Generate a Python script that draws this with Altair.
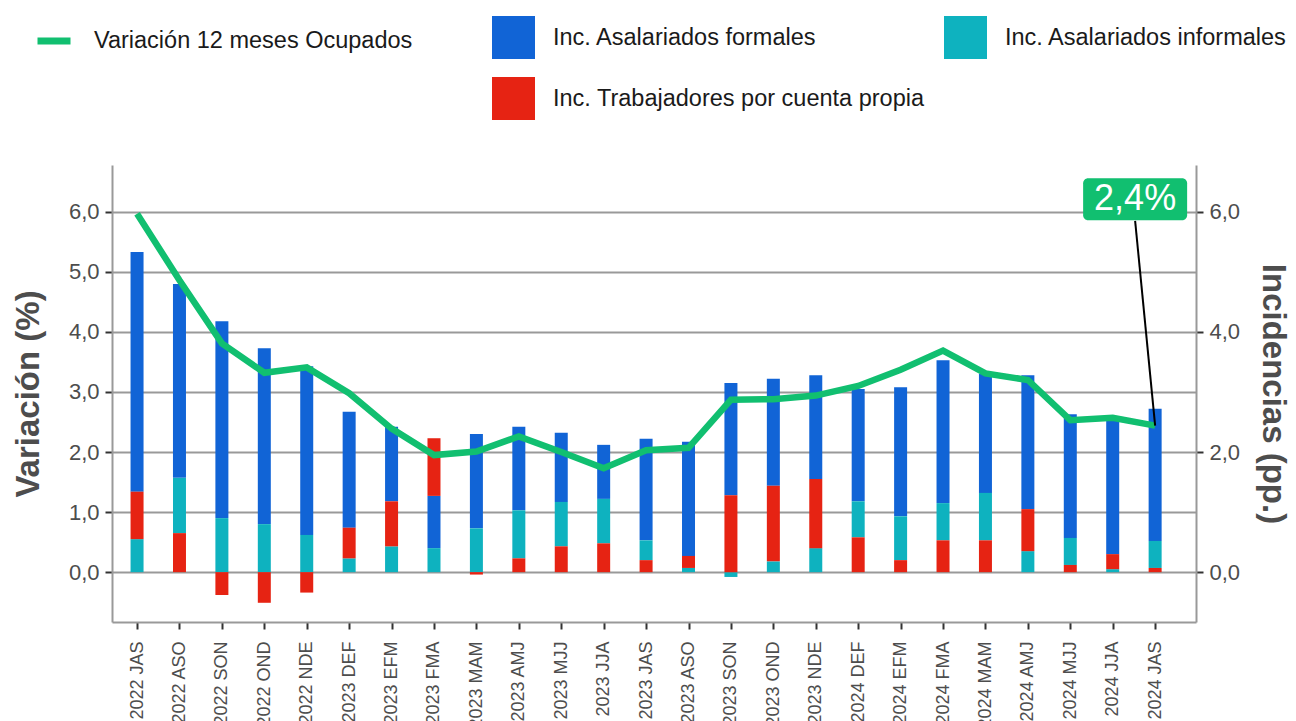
import altair as alt
import pandas as pd

cats = ["2022 JAS", "2022 ASO", "2022 SON", "2022 OND", "2022 NDE",
        "2023 DEF", "2023 EFM", "2023 FMA", "2023 MAM", "2023 AMJ",
        "2023 MJJ", "2023 JJA", "2023 JAS", "2023 ASO", "2023 SON",
        "2023 OND", "2023 NDE", "2024 DEF", "2024 EFM", "2024 FMA",
        "2024 MAM", "2024 AMJ", "2024 MJJ", "2024 JJA", "2024 JAS"]

formales = [3.99, 3.23, 3.28, 2.93, 2.81, 1.93, 1.24, 0.87, 1.57, 1.39,
            1.15, 0.90, 1.69, 1.90, 1.87, 1.78, 1.73, 1.87, 2.15, 2.38,
            1.98, 2.23, 2.06, 2.25, 2.20]
informales = [0.55, 0.92, 0.90, 0.80, 0.62, 0.23, 0.43, 0.40, 0.73, 0.80,
              0.74, 0.74, 0.33, 0.07, -0.08, 0.18, 0.40, 0.60, 0.73, 0.62,
              0.79, 0.35, 0.45, 0.05, 0.45]
propia = [0.79, 0.65, -0.38, -0.51, -0.34, 0.51, 0.75, 0.96, -0.04, 0.23,
          0.43, 0.48, 0.20, 0.20, 1.28, 1.26, 1.15, 0.58, 0.20, 0.53,
          0.53, 0.70, 0.12, 0.25, 0.07]
variacion = [5.97, 4.86, 3.81, 3.32, 3.41, 2.98, 2.39, 1.95, 2.01, 2.26,
             2.00, 1.73, 2.03, 2.07, 2.87, 2.88, 2.94, 3.10, 3.37, 3.69,
             3.31, 3.20, 2.53, 2.57, 2.44]

series_names = ["Inc. Asalariados formales", "Inc. Asalariados informales",
                "Inc. Trabajadores por cuenta propia"]
series_colors = ["#1164D6", "#0EB2BF", "#E62313"]
line_name = "Variación 12 meses Ocupados"
line_color = "#11BF70"

rows = []
for i, c in enumerate(cats):
    for name, vals in zip(series_names, [formales, informales, propia]):
        rows.append({"cat": c, "serie": name, "valor": vals[i]})
bars_df = pd.DataFrame(rows)
line_df = pd.DataFrame({"cat": cats, "valor": variacion, "serie": line_name})

last_label = f"{variacion[-1]:.1f}".replace(".", ",") + "%"
ann_df = pd.DataFrame({
    "cat": [cats[-1]], "valor": [variacion[-1]], "label": [last_label],
    "box_top": [6.56], "box_bot": [5.86], "text_y": [6.22], "seg_top": [5.85],
})

FONT = "Liberation Sans"
LEG_FS = 23.5
ydom = [-0.83, 6.78]
label_fmt = "replace(format(datum.value, '.1f'), '.', ',')"

xscale = alt.Scale(type="point", padding=0.777, align=0.38)
x_axis = alt.Axis(labelAngle=-90, labelFontSize=18, labelColor="#4d4d4d",
                  labelPadding=12, tickSize=7, tickColor="#333333", tickWidth=2,
                  domainColor="#999999", domainWidth=2, grid=False, labelFont=FONT)
x_enc = alt.X("cat:N", sort=cats, title=None, scale=xscale, axis=x_axis)

def ysc():
    return alt.Scale(domain=ydom, nice=False, zero=False)

left_axis = alt.Axis(title="Variación (%)", values=[0, 1, 2, 3, 4, 5, 6],
                     labelExpr=label_fmt, grid=True, gridColor="#999999", gridWidth=2,
                     labelFontSize=22, labelColor="#4d4d4d", labelPadding=6,
                     tickSize=7, tickColor="#333333", tickWidth=2,
                     domainColor="#999999", domainWidth=2,
                     titleFontSize=33, titleFontWeight="bold", titleColor="#4d4d4d",
                     titlePadding=23, titleFont=FONT, labelFont=FONT)
right_axis = alt.Axis(title="Incidencias (pp.)", values=[0, 2, 4, 6], orient="right",
                      labelExpr=label_fmt, grid=False,
                      labelFontSize=22, labelColor="#4d4d4d", labelPadding=6,
                      tickSize=7, tickColor="#333333", tickWidth=2,
                      domainColor="#999999", domainWidth=2,
                      titleFontSize=33, titleFontWeight="bold", titleColor="#4d4d4d",
                      titlePadding=16, titleFont=FONT, labelFont=FONT)

bars = alt.Chart(bars_df).mark_bar(size=13).encode(
    x=x_enc,
    y=alt.Y("valor:Q", stack="zero", scale=ysc(), axis=left_axis),
    fill=alt.Fill("serie:N",
                  scale=alt.Scale(domain=series_names, range=series_colors),
                  legend=alt.Legend(title=None, orient="none", legendX=380, legendY=-149,
                                    direction="horizontal",
                                    columns=2, symbolType="square", symbolSize=1849,
                                    symbolStrokeWidth=0, labelFontSize=LEG_FS, labelFont=FONT,
                                    labelColor="#1a1a1a", labelOffset=18, rowPadding=18,
                                    columnPadding=19, gridAlign="all", labelLimit=600)),
    order=alt.Order("valor:Q", sort="ascending"),
)

line = alt.Chart(line_df).mark_line(strokeWidth=6.5).encode(
    x=x_enc,
    y=alt.Y("valor:Q", scale=ysc(), axis=right_axis),
    stroke=alt.Stroke("serie:N",
                      scale=alt.Scale(domain=[line_name], range=[line_color]),
                      legend=alt.Legend(title=None, orient="none", legendX=-78, legendY=-144,
                                        symbolType="stroke", symbolSize=1089,
                                        symbolStrokeWidth=7, labelFontSize=LEG_FS, labelFont=FONT,
                                        labelColor="#1a1a1a", labelOffset=20, labelLimit=600)),
)

seg = alt.Chart(ann_df).mark_rule(color="black", strokeWidth=2, x2Offset=-20).encode(
    x=x_enc, x2="cat:N",
    y=alt.Y("valor:Q", scale=ysc(), axis=None),
    y2="seg_top:Q",
)

box = alt.Chart(ann_df).mark_rect(color=line_color, cornerRadius=5,
                                  xOffset=-72, x2Offset=32).encode(
    x=x_enc, x2="cat:N",
    y=alt.Y("box_top:Q", scale=ysc(), axis=None),
    y2="box_bot:Q",
)

txt = alt.Chart(ann_df).mark_text(dx=-20, fontSize=36, color="white", font=FONT,
                                  align="center", baseline="middle").encode(
    x=x_enc,
    y=alt.Y("text_y:Q", scale=ysc(), axis=None),
    text="label:N",
)

chart = alt.layer(bars, line, seg, box, txt).resolve_scale(
    y="independent", fill="independent", stroke="independent"
).properties(
    width=1084, height=457,
    autosize=alt.AutoSizeParams(type="none"),
    padding={"left": 104, "top": 157, "right": 92, "bottom": 99},
).configure(font=FONT).configure_view(stroke=None)

chart.save("out.html", embed_options={"renderer": "svg", "actions": False})
